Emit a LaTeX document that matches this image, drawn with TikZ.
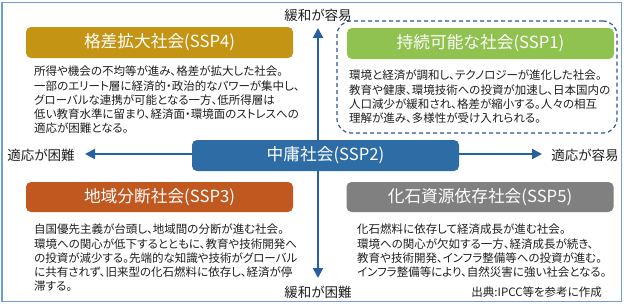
\documentclass[tikz,border=0pt]{standalone}
\usepackage{fontspec}
\setmainfont{Noto Sans CJK JP}
\newfontfamily\bodyfont{Noto Sans CJK JP}[RawFeature={+palt}]
\usetikzlibrary{arrows.meta,backgrounds}
\definecolor{cgold}{RGB}{196,148,20}
\definecolor{cgreen}{RGB}{143,194,78}
\definecolor{corange}{RGB}{192,88,32}
\definecolor{cgray}{RGB}{128,128,128}
\definecolor{cblue}{RGB}{46,108,166}
\definecolor{carrow}{RGB}{38,96,162}
\definecolor{cdash}{RGB}{47,85,151}
\definecolor{cframe}{RGB}{110,160,214}
\definecolor{ctext}{RGB}{30,30,30}
\tikzset{
  hdr/.style={rounded corners=5pt, minimum width=267pt, minimum height=31pt, inner sep=0pt,
    text=white, font=\fontsize{16.7}{20}\selectfont},
  body/.style={anchor=north west, inner sep=0pt, align=left, text=ctext,
    font=\bodyfont\fontsize{11.5}{14.2}\selectfont},
  axlabel/.style={inner sep=0pt, text=ctext, font=\bodyfont\fontsize{13.5}{16}\selectfont},
  axisarrow/.style={draw=carrow, line width=2pt, -{Triangle[length=10pt,width=10pt]}},
  dashbox/.style={draw=cdash, line width=1.2pt, dash pattern=on 4pt off 3pt, rounded corners=14pt,
    minimum width=280pt, minimum height=112pt, inner sep=0pt},
  frame/.style={draw=cframe, line width=1.2pt}
}
\begin{document}
\begin{tikzpicture}[x=1pt,y=-1pt]
\useasboundingbox (0,0) rectangle (624,303);
\draw[frame] (2,2.5) rectangle (621.5,301.5);

% dashed group
\node[dashbox] (grp1) at (477,77) {};

% headers
\node[hdr, fill=cgold] (ssp4) at (159.5,42.5) {格差拡大社会(SSP4)};
\node[hdr, fill=cgreen] (ssp1) at (480.5,43.5) {持続可能な社会(SSP1)};
\node[hdr, fill=cblue] (ssp2) at (325.5,155.5) {中庸社会(SSP2)};
\node[hdr, fill=corange, minimum height=30pt] (ssp3) at (159.5,197) {地域分断社会(SSP3)};
\node[hdr, fill=cgray, minimum height=30pt] (ssp5) at (480,197) {化石資源依存社会(SSP5)};

% bodies
\node[body] (b4) at (34,66) {所得や機会の不均等が進み、格差が拡大した社会。\\一部のエリート層に経済的・政治的なパワーが集中し、\\グローバルな連携が可能となる一方、低所得層は\\低い教育水準に留まり、経済面・環境面のストレスへの\\適応が困難となる。};
\node[body] (b1) at (349,70) {環境と経済が調和し、テクノロジーが進化した社会。\\教育や健康、環境技術への投資が加速し、日本国内の\\人口減少が緩和され、格差が縮小する。人々の相互\\理解が進み、多様性が受け入れられる。};
\node[body] (b3) at (34,224) {自国優先主義が台頭し、地域間の分断が進む社会。\\環境への関心が低下するとともに、教育や技術開発へ\\の投資が減少する。先端的な知識や技術がグローバル\\に共有されず、旧来型の化石燃料に依存し、経済が停\\滞する。};
\node[body] (b5) at (357,224) {化石燃料に依存して経済成長が進む社会。\\環境への関心が欠如する一方、経済成長が続き、\\教育や技術開発、インフラ整備等への投資が進む。\\インフラ整備等により、自然災害に強い社会となる。};
\node[body, anchor=east] (src) at (602,292) {出典:IPCC等を参考に作成};

% axis labels
\node[axlabel] (lt) at (318,15) {緩和が容易};
\node[axlabel] (lb) at (318,292) {緩和が困難};
\node[axlabel] (ll) at (41,155) {適応が困難};
\node[axlabel] (lr) at (585,155) {適応が容易};

\coordinate (tipT) at (318,28);
\coordinate (tipB) at (318,278);
\coordinate (tipL) at (85,154);
\coordinate (tipR) at (542,154);

\begin{scope}[on background layer]
\draw[axisarrow] (tipT |- ssp2.north) -- (tipT);
\draw[axisarrow] (tipB |- ssp2.south) -- (tipB);
\draw[axisarrow] (ssp2.west |- tipL) -- (tipL);
\draw[axisarrow] (ssp2.east |- tipR) -- (tipR);
\end{scope}
\end{tikzpicture}
\end{document}
